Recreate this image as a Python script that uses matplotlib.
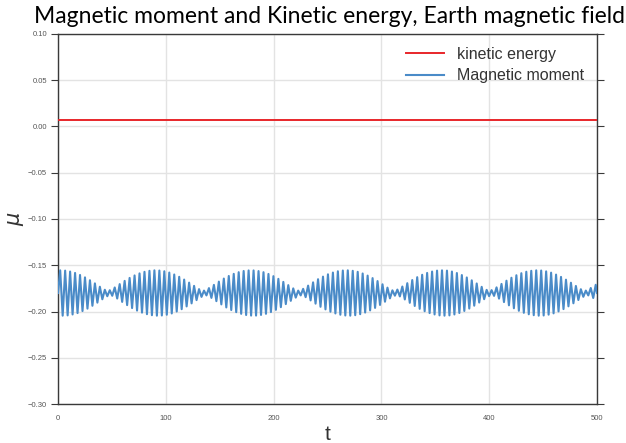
import numpy as np
import matplotlib
matplotlib.use("Agg")
import matplotlib.pyplot as plt

# ---- data ----
kinetic_t = [0, 500]
kinetic_energy = [0.0068, 0.0068]

mu_center = -0.18
peak_period = 4.6          # time between successive maxima
first_peak_t = 2.0
# oscillation half-amplitudes (x 1e-3) of successive cycles of the magnetic moment
mu_amp_milli = [
    24.5, 24.2, 23.2, 21.7, 19.5, 16.9, 13.8, 10.4, 6.8, 3.5,
    3.0, 6.0, 9.6, 13.1, 16.3, 19.0, 21.2, 22.9, 24.0, 24.5,
    24.3, 23.5, 22.1, 20.0, 17.5, 14.5, 11.2, 7.7, 4.2, 2.6,
    5.3, 8.8, 12.3, 15.6, 18.4, 20.7, 22.5, 23.8, 24.4,
    24.4, 23.7, 22.5, 20.6, 18.2, 15.3, 12.0, 8.5, 5.0, 2.6,
    4.5, 8.0, 11.5, 14.9, 17.7, 20.2, 22.1, 23.5, 24.3,
    24.5, 24.0, 22.9, 21.1, 18.8, 16.1, 12.9, 9.4, 5.8, 2.9,
    3.7, 7.0, 10.6, 14.0, 17.1, 19.7, 21.7, 23.2, 24.2, 24.5,
    24.2, 23.2, 21.6, 19.4, 16.8, 13.7, 10.3, 6.7, 3.4,
    3.1, 6.1, 9.8, 13.3, 16.5, 19.2, 21.4, 23.0, 24.0, 24.5,
    24.3, 23.4, 22.0, 19.9, 17.4, 14.4, 11.1, 7.6, 4.1, 2.6,
    5.4, 8.9,
]

x_ticks = [0, 100, 200, 300, 400, 500]
y_ticks = [-0.30, -0.25, -0.20, -0.15, -0.10, -0.05, 0.00, 0.05, 0.10]

# build the extrema sequence (max, then min half a period later)
t_pts = [0.0]
mu_pts = [mu_center]
for k, a in enumerate(mu_amp_milli):
    tp = first_peak_t + k * peak_period
    t_pts.append(tp)
    mu_pts.append(mu_center + a * 1e-3)
    tm = tp + peak_period / 2
    if tm <= 500:
        t_pts.append(tm)
        mu_pts.append(mu_center - a * 1e-3)
t_pts.append(500.0)
mu_pts.append(mu_center)

# ---- figure ----
plt.rcParams['font.family'] = ['Liberation Sans', 'DejaVu Sans']
fig = plt.figure(figsize=(6.26, 4.43), dpi=100)
ax = fig.add_axes([0.0927, 0.088, 0.861, 0.8353])

ax.plot(kinetic_t, kinetic_energy, color='#e8262a', lw=1.4, label='kinetic energy', zorder=3)
ax.plot(t_pts, mu_pts, color='#4a8bc8', lw=1.5, label='Magnetic moment', zorder=3)

ax.set_xlim(0, 500)
ax.set_ylim(-0.30, 0.10)
ax.set_xticks(x_ticks)
ax.set_yticks(y_ticks)
ax.set_xticklabels([str(v) for v in x_ticks])
ax.set_yticklabels([('\u2212' if v < 0 else '') + '%.2f' % abs(v) for v in y_ticks])

ax.grid(True, color='#e3e3e3', lw=1.0, zorder=0)
ax.set_axisbelow(True)
for s in ax.spines.values():
    s.set_color('#3a3a3a')
    s.set_linewidth(1.0)

ax.tick_params(axis='y', which='both', direction='out', length=5, width=0.8,
               color='#3a3a3a', labelsize=5.5, labelcolor='#555555',
               left=True, right=True, pad=3)
ax.tick_params(axis='x', which='both', direction='out', length=0, width=0.8,
               color='#3a3a3a', labelsize=5.5, labelcolor='#555555', pad=8)

ax.set_xlabel('t', fontsize=15, color='#333333', labelpad=2)
ax.set_ylabel(r'$\mu$', fontsize=15, color='#333333', labelpad=1)

fig.text(0.526, 0.962, 'Magnetic moment and Kinetic energy, Earth magnetic field',
         ha='center', va='center', fontsize=16.5, family=['Lato', 'DejaVu Sans'],
         color='black')

leg = ax.legend(loc='upper right', frameon=False, fontsize=11.5,
                handlelength=2.4, borderaxespad=0.4, labelspacing=0.4,
                bbox_to_anchor=(1.0, 1.0))
for txt in leg.get_texts():
    txt.set_color('#333333')

fig.savefig('out.png', dpi=100)
